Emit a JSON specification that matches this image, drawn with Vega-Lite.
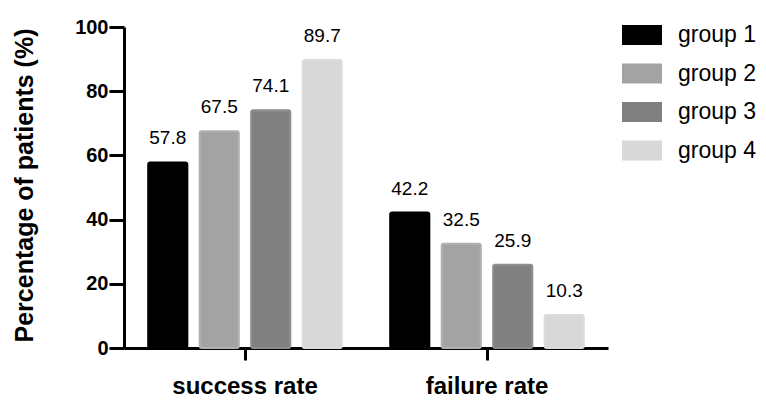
{
  "$schema": "https://vega.github.io/schema/vega-lite/v6.json",
  "width": 484,
  "height": 321,
  "autosize": {"type": "none"},
  "padding": {"left": 124, "top": 27, "right": 158, "bottom": 61},
  "config": {
    "view": {"stroke": null},
    "font": "Liberation Sans"
  },
  "data": {
    "values": [
      {"category": "success rate", "group": "group 1", "value": 57.8},
      {"category": "success rate", "group": "group 2", "value": 67.5},
      {"category": "success rate", "group": "group 3", "value": 74.1},
      {"category": "success rate", "group": "group 4", "value": 89.7},
      {"category": "failure rate", "group": "group 1", "value": 42.2},
      {"category": "failure rate", "group": "group 2", "value": 32.5},
      {"category": "failure rate", "group": "group 3", "value": 25.9},
      {"category": "failure rate", "group": "group 4", "value": 10.3}
    ]
  },
  "encoding": {
    "x": {
      "field": "category",
      "type": "nominal",
      "sort": ["success rate", "failure rate"],
      "scale": {"paddingInner": 0, "paddingOuter": 0},
      "axis": {
        "title": null,
        "labelAngle": 0,
        "labelFontSize": 24,
        "labelFontWeight": "bold",
        "labelColor": "black",
        "labelPadding": 14,
        "tickSize": 12,
        "tickWidth": 3,
        "tickColor": "black",
        "domainWidth": 3,
        "domainColor": "black"
      }
    },
    "xOffset": {
      "field": "group",
      "type": "nominal",
      "scale": {"paddingInner": 0.24, "paddingOuter": 0.47}
    },
    "y": {
      "field": "value",
      "type": "quantitative",
      "scale": {"domain": [0, 100]},
      "axis": {
        "title": "Percentage of patients (%)",
        "titleFontSize": 25,
        "titleFontWeight": "bold",
        "titleColor": "black",
        "titleAngle": 270,
        "titleX": -100,
        "titleY": 158,
        "titleAlign": "center",
        "titleBaseline": "middle",
        "values": [0, 20, 40, 60, 80, 100],
        "grid": false,
        "labelFontSize": 20,
        "labelFontWeight": "bold",
        "labelColor": "black",
        "labelPadding": 1,
        "tickSize": 15,
        "tickWidth": 3,
        "tickColor": "black",
        "domainWidth": 3,
        "domainColor": "black"
      }
    }
  },
  "layer": [
    {
      "mark": {"type": "bar", "cornerRadius": 2, "strokeWidth": 2},
      "encoding": {
        "color": {
          "field": "group",
          "type": "nominal",
          "scale": {"range": ["#000000", "#a3a3a3", "#808080", "#d8d8d8"]},
          "legend": {
            "orient": "none",
            "legendX": 498,
            "legendY": -12,
            "title": null,
            "symbolType": "M-1,-0.5H1V0.5H-1Z",
            "symbolSize": 1600,
            "symbolOpacity": 1,
            "symbolStrokeWidth": 0,
            "labelFontSize": 23,
            "labelColor": "black",
            "labelOffset": 16,
            "rowPadding": 6.5,
            "padding": 0
          }
        },
        "stroke": {
          "field": "group",
          "type": "nominal",
          "scale": {"range": ["#000000", "#b0b0b0", "#8e8e8e", "#dcdcdc"]},
          "legend": null
        }
      }
    },
    {
      "mark": {"type": "text", "dy": -18, "fontSize": 19, "baseline": "alphabetic", "color": "black"},
      "encoding": {
        "text": {"field": "value", "type": "quantitative", "format": ".1f"}
      }
    }
  ]
}
